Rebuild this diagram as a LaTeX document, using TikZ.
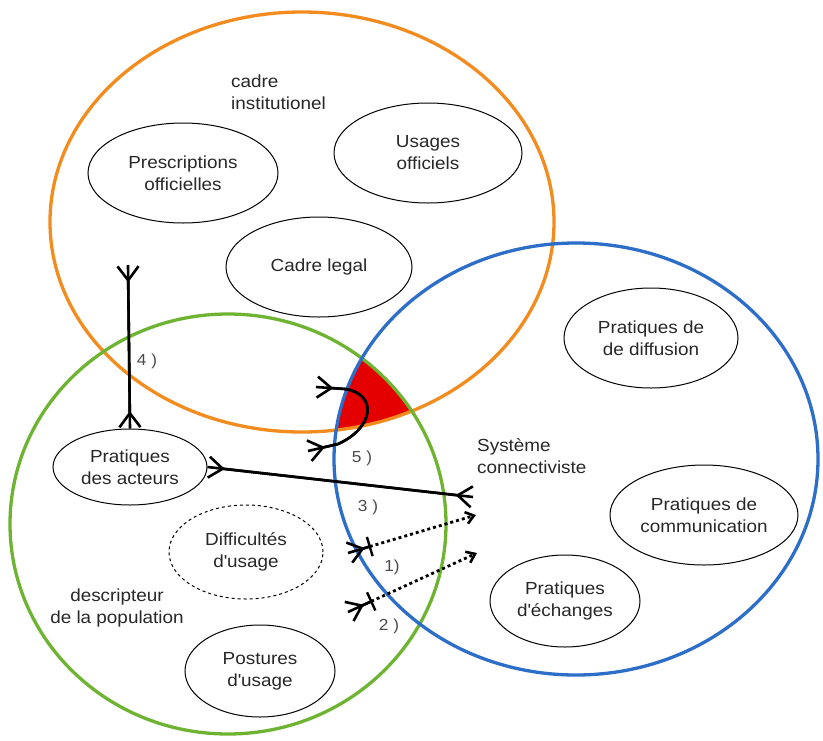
\documentclass[tikz,border=0pt]{standalone}
\usepackage{fontspec}
\setmainfont{Liberation Sans}[FakeStretch=1.08]
\usetikzlibrary{shapes.geometric,arrows.meta,calc}
\definecolor{corange}{RGB}{243,140,30}
\definecolor{cgreen}{RGB}{110,180,50}
\definecolor{cblue}{RGB}{45,110,200}
\definecolor{ctext}{RGB}{40,40,40}
\definecolor{cred}{RGB}{228,0,0}
\tikzset{
  crowtip/.tip={Straight Barb[reversed,length=14pt,width=21pt,line width=2.6pt]},
  smalltip/.tip={Straight Barb[length=8pt,width=12pt,line width=2.6pt]},
}
\begin{document}
\begin{tikzpicture}[x=1pt,y=-1pt,
  bigring/.style={line width=3.3pt},
  oval/.style={ellipse,draw=black,line width=1pt,align=center,inner sep=0pt,text=ctext,font=\fontsize{17.5}{22}\selectfont},
  lbl/.style={align=left,text=ctext,font=\fontsize{17.5}{22}\selectfont,inner sep=0pt},
  lblc/.style={align=center,text=ctext,font=\fontsize{17.5}{22}\selectfont,inner sep=0pt},
  num/.style={text=black!70,font=\fontsize{16}{20}\selectfont,inner sep=0pt},
  conn/.style={line width=2.6pt,line join=round},
  dots/.style={line width=2.8pt,dash pattern=on 3pt off 3pt},
  barmark/.style={draw,line width=2.4pt,minimum width=0pt,minimum height=20pt,inner sep=0pt},
]
\useasboundingbox (0,0) rectangle (823,740);
\fill[white] (0,0) rectangle (823,740);

% red intersection
\begin{scope}
  \clip (302,222) ellipse [x radius=252pt, y radius=210pt];
  \clip (228,524) ellipse [x radius=218pt, y radius=210pt];
  \fill[cred] (576,459) ellipse [x radius=242pt, y radius=216pt];
\end{scope}

% big rings
\draw[bigring,corange] (302,222) ellipse [x radius=252pt, y radius=210pt];
\draw[bigring,cgreen] (228,524) ellipse [x radius=218pt, y radius=210pt];
\draw[bigring,cblue] (576,459) ellipse [x radius=242pt, y radius=216pt];

% nodes
\node[oval,minimum width=190pt,minimum height=100pt] (presc) at (183,173) {Prescriptions\\officielles};
\node[oval,minimum width=188pt,minimum height=100pt] (usages) at (428,153) {Usages\\officiels};
\node[oval,minimum width=186pt,minimum height=100pt] (legal) at (319,267) {Cadre legal};
\node[oval,minimum width=174pt,minimum height=100pt] (diff) at (651,338) {Pratiques de\\de diffusion};
\node[oval,minimum width=188pt,minimum height=100pt] (comm) at (704,515) {Pratiques de\\communication};
\node[oval,minimum width=150pt,minimum height=92pt] (ech) at (565,601) {Pratiques\\d\textquotesingle échanges};
\node[oval,minimum width=150pt,minimum height=92pt] (post) at (260,671) {Postures\\d\textquotesingle usage};
\node[oval,dashed,minimum width=154pt,minimum height=94pt] (diffu) at (246,552) {Difficultés\\d\textquotesingle usage};
\node[oval,minimum width=154pt,minimum height=76pt] (pa) at (130,467) {Pratiques\\des acteurs};

% labels
\node[lbl,anchor=west] (cinst) at (231,92) {cadre\\institutionel};
\node[lbl,anchor=west] (sys) at (477,456) {Système\\connectiviste};
\node[lblc] (desc) at (117,608) {descripteur\\de la population};

% free coordinates
\coordinate (c4) at (128,265);
\coordinate (c3) at (473,497);
\coordinate (c5a) at (316,387);
\coordinate (c5b) at (308,451);
\coordinate (s1) at (348,553);
\coordinate (e1) at (476,515);
\coordinate (s2) at (348,612);
\coordinate (e2) at (477,553);

% connector 4
\draw[conn] (c4) -- (pa.north);
\draw[conn,crowtip-crowtip] (c4) -- (pa.north);
% connector 3
\draw[conn] (pa.east) -- (c3);
\draw[conn,crowtip-crowtip] (pa.east) -- (c3);
% connector 5
\draw[conn] (c5a) -- (345,389) .. controls (378,394) and (374,428) .. (338,444) -- (c5b);
\draw[conn,crowtip-crowtip] (c5a) -- (345,389) .. controls (378,394) and (374,428) .. (338,444) -- (c5b);
% connectors 1 and 2
\coordinate (b1) at ($(s1)!0.17!(e1)$);
\coordinate (b2) at ($(s2)!0.18!(e2)$);
\draw[conn] (s1) -- (b1);
\draw[conn,crowtip-] (s1) -- (b1);
\draw[dots,-smalltip] (b1) -- (e1);
\path (s1) -- (e1) node[sloped,pos=0.17,barmark] (bar1) {};
\draw[conn] (s2) -- (b2);
\draw[conn,crowtip-] (s2) -- (b2);
\draw[dots,-smalltip] (b2) -- (e2);
\path (s2) -- (e2) node[sloped,pos=0.18,barmark] (bar2) {};

% numbers
\node[num] (n4) at (147,361) {4 )};
\node[num] (n5) at (362,458) {5 )};
\node[num] (n3) at (368,507) {3 )};
\node[num] (n1) at (392,567) {1)};
\node[num] (n2) at (389,626) {2 )};
\end{tikzpicture}
\end{document}
